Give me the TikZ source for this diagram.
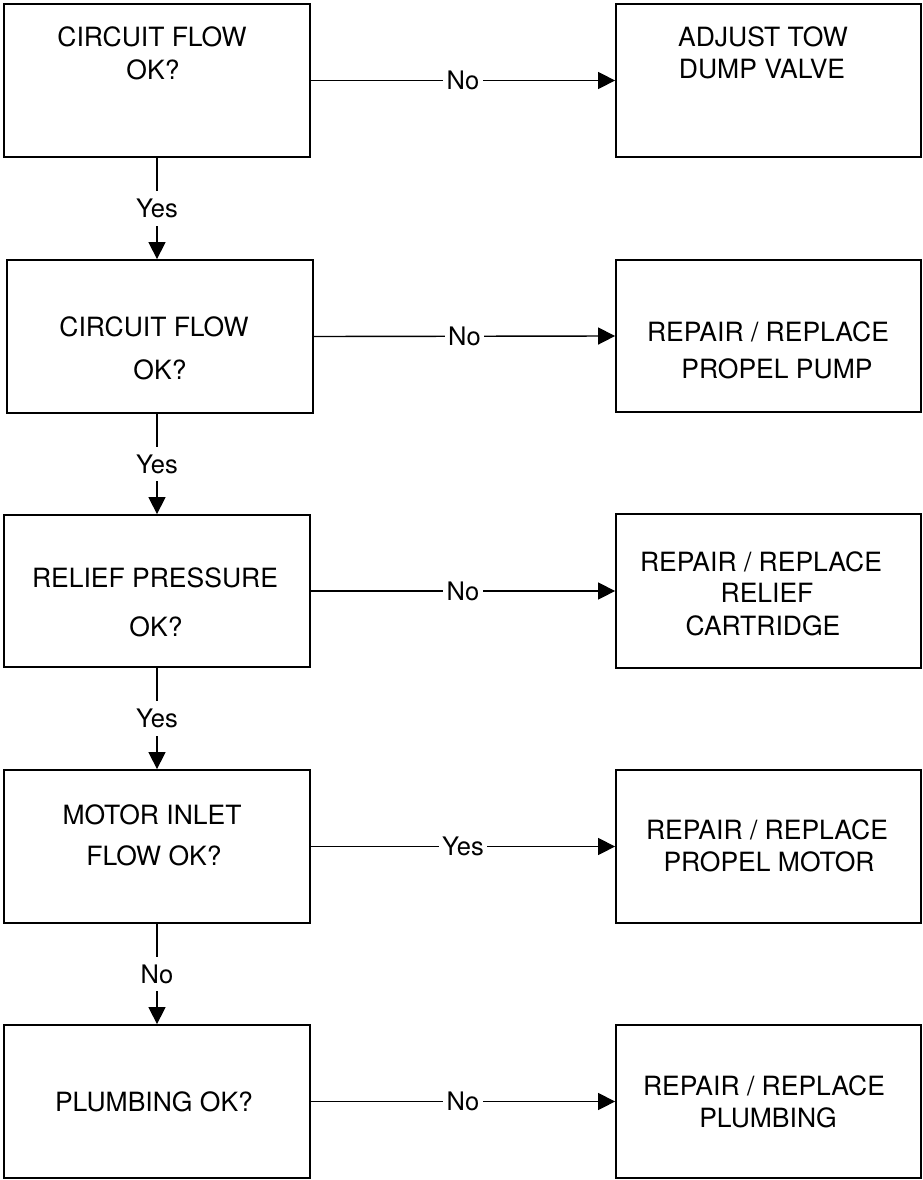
\documentclass[tikz,border=0pt]{standalone}
\usepackage{fontspec}
\setmainfont{TeX Gyre Heros}
\usetikzlibrary{arrows.meta}
\begin{document}
\begin{tikzpicture}[x=1pt,y=-1pt,
  box/.style={draw, line width=1.8pt, rectangle, inner sep=0pt, minimum width=306pt, minimum height=153pt},
  rbox/.style={box, minimum width=305pt},
  txt/.style={anchor=base, inner sep=0pt, font=\fontsize{26.5}{30}\selectfont},
  conn/.style={line width=1.4pt, -{Triangle[length=17pt,width=17pt]}},
  vlab/.style={fill=white, inner xsep=2pt, inner ysep=8pt, font=\fontsize{25.5}{28}\selectfont},
  hlab/.style={fill=white, inner xsep=3.5pt, inner ysep=2pt, font=\fontsize{25.5}{28}\selectfont}]
\useasboundingbox[fill=white] (0,0) rectangle (922,1180);

% left column
\node[box] (b1) at (157,80.5) {};
\node[box] (b2) at (160,336.5) {};
\node[box, minimum height=152pt] (b3) at (157,591) {};
\node[box] (b4) at (157,846.5) {};
\node[box] (b5) at (157,1101.5) {};

% right column
\node[rbox] (r1) at (768.5,80.5) {};
\node[rbox, minimum height=152pt] (r2) at (768.5,336) {};
\node[rbox, minimum height=154pt] (r3) at (768.5,591) {};
\node[rbox] (r4) at (768.5,846.5) {};
\node[rbox] (r5) at (768.5,1101.5) {};

% texts left
\node[txt] (t1a) at (152,47) {CIRCUIT FLOW};
\node[txt] (t1b) at (153,80) {OK?};
\node[txt] (t2a) at (154,336) {CIRCUIT FLOW};
\node[txt] (t2b) at (160,379) {OK?};
\node[txt] (t3a) at (155,587) {RELIEF PRESSURE};
\node[txt] (t3b) at (156,636) {OK?};
\node[txt] (t4a) at (152,824) {MOTOR INLET};
\node[txt] (t4b) at (154,865) {FLOW OK?};
\node[txt] (t5a) at (154,1111) {PLUMBING OK?};

% texts right
\node[txt] (u1a) at (763,47) {ADJUST TOW};
\node[txt] (u1b) at (762,79) {DUMP VALVE};
\node[txt] (u2a) at (768,341) {REPAIR / REPLACE};
\node[txt] (u2b) at (777,378) {PROPEL PUMP};
\node[txt] (u3a) at (761,571) {REPAIR / REPLACE};
\node[txt] (u3b) at (767,602) {RELIEF};
\node[txt] (u3c) at (763,635) {CARTRIDGE};
\node[txt] (u4a) at (767,839) {REPAIR / REPLACE};
\node[txt] (u4b) at (769,871) {PROPEL MOTOR};
\node[txt] (u5a) at (764,1095) {REPAIR / REPLACE};
\node[txt] (u5b) at (768,1127) {PLUMBING};

% vertical connectors
\draw[conn] (b1.south) -- node[vlab] (l1) {Yes} (b1.south |- b2.north);
\draw[conn] (b2.south -| b1.south) -- node[vlab] (l2) {Yes} (b3.north);
\draw[conn] (b3.south) -- node[vlab] (l3) {Yes} (b4.north);
\draw[conn] (b4.south) -- node[vlab] (l4) {No} (b5.north);

% horizontal connectors
\draw[conn] (b1.east) -- node[hlab] (h1) {No} (r1.west);
\draw[conn] (b2.east) -- node[hlab] (h2) {No} (r2.west);
\draw[conn] (b3.east) -- node[hlab] (h3) {No} (r3.west);
\draw[conn] (b4.east) -- node[hlab] (h4) {Yes~} (r4.west);
\draw[conn] (b5.east) -- node[hlab] (h5) {No} (r5.west);
\end{tikzpicture}
\end{document}
